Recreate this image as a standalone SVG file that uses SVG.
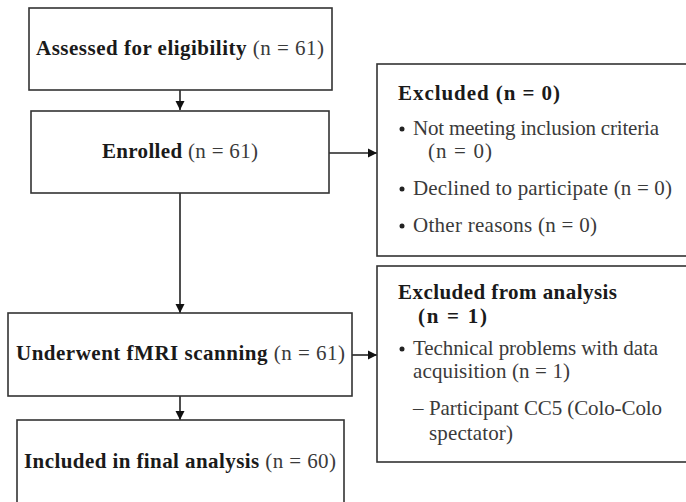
<svg xmlns="http://www.w3.org/2000/svg" width="686" height="502" viewBox="0 0 686 502">
<style>
.box{fill:#fff;stroke:#333;stroke-width:1.6}
text{font-family:"Liberation Serif","Times New Roman",serif;font-size:21px;fill:#2a2a2a}
.b{font-weight:bold;fill:#1a1a1a}
.r{fill:#3a3a3a}
.c{text-anchor:middle}
.line{stroke:#222;stroke-width:1.6;fill:none}
.dot{fill:#222}
</style>
<defs>
<marker id="ah" viewBox="0 0 10 10" refX="10" refY="5" markerWidth="9" markerHeight="10" markerUnits="userSpaceOnUse" orient="auto">
<path d="M0,0 L10,5 L0,10 Z" fill="#111"/>
</marker>
</defs>
<rect width="686" height="502" fill="#fff"/>
<g id="connectors">
<line class="line" x1="180" y1="90" x2="180" y2="110" marker-end="url(#ah)"/>
<line class="line" x1="180" y1="193" x2="180" y2="313" marker-end="url(#ah)"/>
<line class="line" x1="180" y1="396" x2="180" y2="420" marker-end="url(#ah)"/>
<line class="line" x1="329" y1="153" x2="377" y2="153" marker-end="url(#ah)"/>
<line class="line" x1="352" y1="355" x2="377" y2="355" marker-end="url(#ah)"/>
</g>
<g id="assessed">
<rect class="box" x="29" y="8" width="303" height="82"/>
<text class="c" x="180" y="55" textLength="288" lengthAdjust="spacing"><tspan class="b">Assessed for eligibility</tspan><tspan class="r"> (n = 61)</tspan></text>
</g>
<g id="enrolled">
<rect class="box" x="31" y="111" width="298" height="82"/>
<text class="c" x="180" y="158" textLength="156" lengthAdjust="spacing"><tspan class="b">Enrolled</tspan><tspan class="r"> (n = 61)</tspan></text>
</g>
<g id="fmri">
<rect class="box" x="8" y="313" width="344" height="83"/>
<text class="c" x="180.5" y="360" textLength="329" lengthAdjust="spacing"><tspan class="b">Underwent fMRI scanning</tspan><tspan class="r"> (n = 61)</tspan></text>
</g>
<g id="included">
<rect class="box" x="17" y="420" width="327" height="100"/>
<text class="c" x="180" y="468" textLength="312" lengthAdjust="spacing"><tspan class="b">Included in final analysis</tspan><tspan class="r"> (n = 60)</tspan></text>
</g>
<g id="excluded">
<rect class="box" x="377" y="64" width="330" height="192"/>
<text class="b" x="398" y="100" textLength="162" lengthAdjust="spacing">Excluded (n = 0)</text>
<circle class="dot" cx="402" cy="129" r="2.5"/>
<text class="r" x="413" y="135" textLength="246" lengthAdjust="spacing">Not meeting inclusion criteria</text>
<text class="r" x="428" y="158" textLength="64" lengthAdjust="spacing">(n = 0)</text>
<circle class="dot" cx="402" cy="189" r="2.5"/>
<text class="r" x="413" y="195" textLength="259" lengthAdjust="spacing">Declined to participate (n = 0)</text>
<circle class="dot" cx="402" cy="226" r="2.5"/>
<text class="r" x="413" y="232" textLength="184" lengthAdjust="spacing">Other reasons (n = 0)</text>
</g>
<g id="excluded-analysis">
<rect class="box" x="377" y="266" width="330" height="196"/>
<text class="b" x="398" y="299" textLength="219" lengthAdjust="spacing">Excluded from analysis</text>
<text class="b" x="418" y="323" textLength="69" lengthAdjust="spacing">(n = 1)</text>
<circle class="dot" cx="402" cy="349" r="2.5"/>
<text class="r" x="413" y="355" textLength="245" lengthAdjust="spacing">Technical problems with data</text>
<text class="r" x="413" y="378" textLength="157" lengthAdjust="spacing">acquisition (n = 1)</text>
<text class="r" x="413" y="415">–</text>
<text class="r" x="429" y="415" textLength="233" lengthAdjust="spacing">Participant CC5 (Colo-Colo</text>
<text class="r" x="429" y="440" textLength="84" lengthAdjust="spacing">spectator)</text>
</g>
</svg>
